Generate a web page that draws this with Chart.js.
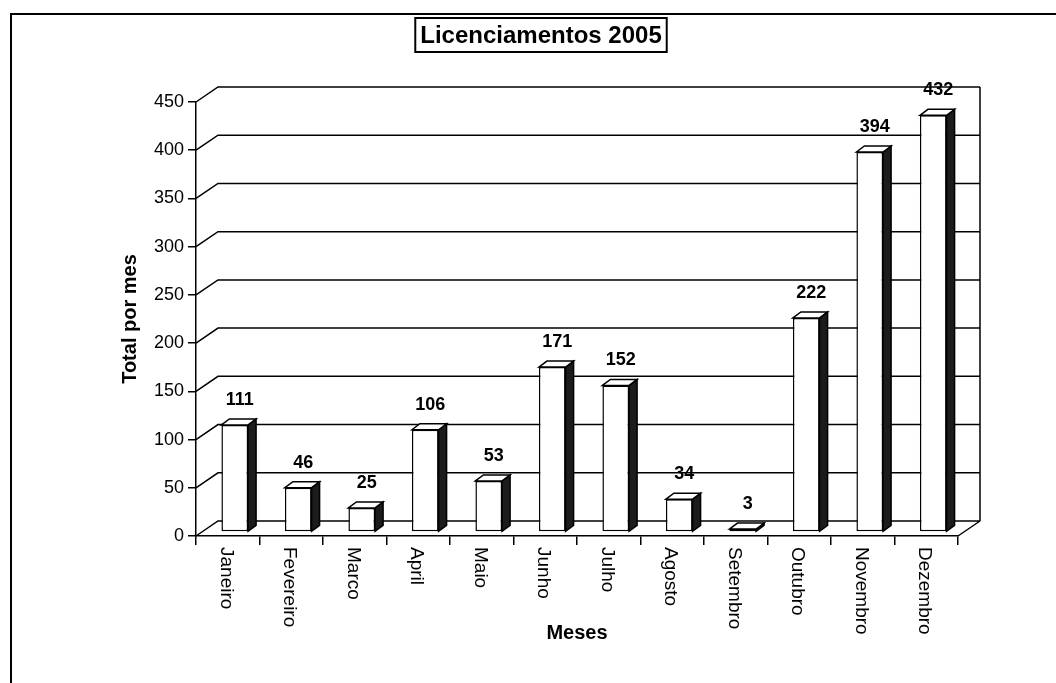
<!DOCTYPE html>
<html>
<head>
<meta charset="utf-8">
<script src="https://cdn.jsdelivr.net/npm/chart.js@4.4.1/dist/chart.umd.min.js"></script>
<style>
html,body{margin:0;padding:0;background:#fff;}
#wrap{width:1056px;height:683px;position:relative;}
</style>
</head>
<body>
<div id="wrap"><canvas id="c" width="1056" height="683"></canvas></div>
<script>
const chartTitle = 'Licenciamentos 2005';
const yAxisTitle = 'Total por mes';
const xAxisTitle = 'Meses';
const categories = ['Janeiro','Fevereiro','Marco','April','Maio','Junho','Julho','Agosto','Setembro','Outubro','Novembro','Dezembro'];
const totals = [111, 46, 25, 106, 53, 171, 152, 34, 3, 222, 394, 432];
const yMin = 0;
const yMax = 450;
const yStep = 50;

const FONT = "'Liberation Sans', Arial, Helvetica, sans-serif";
const WALL = {dx: 22, dy: -15};
const BAR = {dx: 8, dy: -6, shiftX: 7, shiftY: -4};

const excel3d = {
  id: 'excel3d',
  beforeDraw(chart) {
    const ctx = chart.ctx;
    ctx.save();
    ctx.fillStyle = '#fff';
    ctx.fillRect(0, 0, chart.width, chart.height);
    ctx.strokeStyle = '#000';
    ctx.lineWidth = 2;
    ctx.beginPath();
    ctx.moveTo(11, chart.height);
    ctx.lineTo(11, 14);
    ctx.lineTo(chart.width, 14);
    ctx.stroke();
    ctx.restore();
  },
  beforeDatasetsDraw(chart) {
    const ctx = chart.ctx;
    const ys = chart.scales.y;
    const a = chart.chartArea;
    ctx.save();
    ctx.strokeStyle = '#000';
    ctx.lineWidth = 1.5;
    ctx.beginPath();
    ys.ticks.forEach(t => {
      const y = ys.getPixelForValue(t.value);
      ctx.moveTo(a.left, y);
      ctx.lineTo(a.left + WALL.dx, y + WALL.dy);
      ctx.lineTo(a.right + WALL.dx, y + WALL.dy);
    });
    ctx.moveTo(a.right + WALL.dx, a.top + WALL.dy);
    ctx.lineTo(a.right + WALL.dx, a.bottom + WALL.dy);
    ctx.moveTo(a.right, a.bottom);
    ctx.lineTo(a.right + WALL.dx, a.bottom + WALL.dy);
    ctx.stroke();
    ctx.restore();
    ctx.save();
    ctx.translate(BAR.shiftX, BAR.shiftY);
  },
  afterDatasetsDraw(chart) {
    const ctx = chart.ctx;
    const meta = chart.getDatasetMeta(0);
    ctx.lineWidth = 1.5;
    ctx.strokeStyle = '#000';
    meta.data.forEach(bar => {
      const p = bar.getProps(['x', 'y', 'base', 'width'], true);
      const l = p.x - p.width / 2, r = p.x + p.width / 2;
      const top = p.y, bot = p.base;
      ctx.beginPath();
      ctx.moveTo(r, top);
      ctx.lineTo(r + BAR.dx, top + BAR.dy);
      ctx.lineTo(r + BAR.dx, bot + BAR.dy);
      ctx.lineTo(r, bot);
      ctx.closePath();
      ctx.fillStyle = '#1c1c1c';
      ctx.fill();
      ctx.stroke();
      ctx.beginPath();
      ctx.moveTo(l, top);
      ctx.lineTo(l + BAR.dx, top + BAR.dy);
      ctx.lineTo(r + BAR.dx, top + BAR.dy);
      ctx.lineTo(r, top);
      ctx.closePath();
      ctx.fillStyle = '#fff';
      ctx.fill();
      ctx.stroke();
    });
    ctx.restore();
  },
  afterDraw(chart) {
    const ctx = chart.ctx;
    const xs = chart.scales.x;
    const a = chart.chartArea;
    ctx.save();
    ctx.fillStyle = '#000';
    ctx.font = 'bold 18px ' + FONT;
    ctx.textAlign = 'center';
    ctx.textBaseline = 'middle';
    const meta = chart.getDatasetMeta(0);
    meta.data.forEach((bar, i) => {
      const p = bar.getProps(['x', 'y'], true);
      ctx.fillText(String(totals[i]), p.x + BAR.shiftX + 5, p.y + BAR.shiftY - 25);
    });
    ctx.font = '19px ' + FONT;
    ctx.textAlign = 'left';
    categories.forEach((c, i) => {
      const x = xs.getPixelForValue(i) - 2;
      ctx.save();
      ctx.translate(x, a.bottom + 11);
      ctx.rotate(Math.PI / 2);
      ctx.fillText(c, 0, 0);
      ctx.restore();
    });
    ctx.font = 'bold 24px ' + FONT;
    ctx.textAlign = 'center';
    const tw = ctx.measureText(chartTitle).width;
    const cx = 541, cy = 35;
    ctx.fillText(chartTitle, cx, cy + 1);
    ctx.strokeStyle = '#000';
    ctx.lineWidth = 2;
    ctx.strokeRect(cx - tw / 2 - 5, cy - 17, tw + 10, 34);
    ctx.restore();
  }
};

new Chart(document.getElementById('c'), {
  type: 'bar',
  data: {
    labels: categories,
    datasets: [{
      label: yAxisTitle,
      data: totals,
      backgroundColor: '#fff',
      borderColor: '#000',
      borderWidth: 1.5,
      borderSkipped: false,
      categoryPercentage: 1,
      barPercentage: 0.42
    }]
  },
  options: {
    responsive: false,
    animation: false,
    devicePixelRatio: 1,
    layout: {padding: {top: 102, right: 98, left: 0, bottom: 0}},
    plugins: {
      legend: {display: false},
      title: {display: false},
      tooltip: {enabled: false}
    },
    scales: {
      x: {
        offset: true,
        grid: {offset: true, drawOnChartArea: false, drawTicks: true, tickLength: 9, color: '#000', lineWidth: 1.5},
        border: {display: true, color: '#000', width: 1.5},
        ticks: {display: false},
        title: {display: true, text: xAxisTitle, color: '#000', font: {family: FONT, size: 20, weight: 'bold'}, padding: {top: 0, bottom: 38}},
        afterFit(s) { s.height = 147; }
      },
      y: {
        min: yMin,
        max: yMax,
        ticks: {stepSize: yStep, color: '#000', padding: 4, font: {family: FONT, size: 18}},
        grid: {drawOnChartArea: false, drawTicks: true, tickLength: 8, color: '#000', lineWidth: 1.5},
        border: {display: true, color: '#000', width: 1.5},
        title: {display: true, text: yAxisTitle, color: '#000', font: {family: FONT, size: 20, weight: 'bold'}, padding: {top: 118, bottom: 0}},
        afterFit(s) { s.width = 196; }
      }
    }
  },
  plugins: [excel3d]
});
</script>
</body>
</html>
